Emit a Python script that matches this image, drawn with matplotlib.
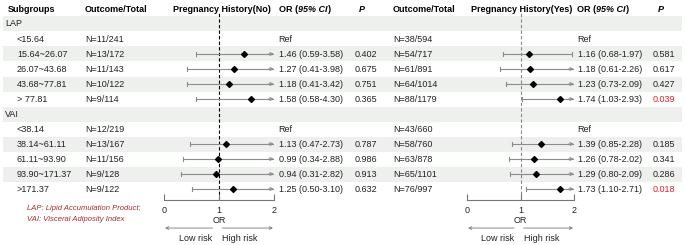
import matplotlib
matplotlib.use("Agg")
import matplotlib.pyplot as plt

plt.rcParams['font.family'] = ['Liberation Sans', 'DejaVu Sans']

# ---- data ----
groups = ["LAP", "VAI"]
subgroups = [["<15.64", "15.64~26.07", "26.07~43.68", "43.68~77.81", "> 77.81"],
             ["<38.14", "38.14~61.11", "61.11~93.90", "93.90~171.37", ">171.37"]]

no_n = ["N=11/241", "N=13/172", "N=11/143", "N=10/122", "N=9/114",
        "N=12/219", "N=13/167", "N=11/156", "N=9/128", "N=9/122"]
no_or = [None, 1.46, 1.27, 1.18, 1.58, None, 1.13, 0.99, 0.94, 1.25]
no_lo = [None, 0.59, 0.41, 0.41, 0.58, None, 0.47, 0.34, 0.31, 0.50]
no_hi = [None, 3.58, 3.98, 3.42, 4.30, None, 2.73, 2.88, 2.82, 3.10]
no_p = [None, 0.402, 0.675, 0.751, 0.365, None, 0.787, 0.986, 0.913, 0.632]

yes_n = ["N=38/594", "N=54/717", "N=61/891", "N=64/1014", "N=88/1179",
         "N=43/660", "N=58/760", "N=63/878", "N=65/1101", "N=76/997"]
yes_or = [None, 1.16, 1.18, 1.23, 1.74, None, 1.39, 1.26, 1.29, 1.73]
yes_lo = [None, 0.68, 0.61, 0.73, 1.03, None, 0.85, 0.78, 0.80, 1.10]
yes_hi = [None, 1.97, 2.26, 2.09, 2.93, None, 2.28, 2.02, 2.09, 2.71]
yes_p = [None, 0.581, 0.617, 0.427, 0.039, None, 0.185, 0.341, 0.286, 0.018]

xticks = [0, 1, 2]

# ---- layout (pixels) ----
W, H = 685, 245
FS = 6.5
shade = '#eef0ee'
line_c = '#8c8c8c'
txt_c = '#222222'

fig = plt.figure(figsize=(W / 100, H / 100), dpi=100)
bg = fig.add_axes([0, 0, 1, 1])
bg.set_xlim(0, W)
bg.set_ylim(H, 0)
bg.axis('off')
renderer = fig.canvas.get_renderer()

header_y = 10
def row_y(i):
    return 24 + 15 * i

# group header row followed by its 5 subgroups
rows = []
k = 0
for g, subs in zip(groups, subgroups):
    rows.append(('group', g, None))
    for s in subs:
        rows.append(('sub', s, k))
        k += 1

for i in range(len(rows)):
    if i % 2 == 0:
        bg.axhspan(row_y(i) - 7.5, row_y(i) + 7.5, xmin=3 / W, xmax=682 / W,
                   color=shade, zorder=0, lw=0)


def rich(x, y, parts):
    # write pieces one after another (mixed bold / bold-italic)
    inv = bg.transData.inverted()
    for s, style in parts:
        t = bg.text(x, y, s, fontsize=FS, fontweight='bold', fontstyle=style,
                    va='center', color='black')
        bb = t.get_window_extent(renderer)
        x = inv.transform((bb.x1, bb.y0))[0]


hdr = dict(fontsize=FS, fontweight='bold', va='center')
bg.text(8, header_y, "Subgroups", **hdr)
bg.text(85, header_y, "Outcome/Total", **hdr)
bg.text(222, header_y, "Pregnancy History(No)", ha='center', **hdr)
bg.text(393, header_y, "Outcome/Total", **hdr)
bg.text(522, header_y, "Pregnancy History(Yes)", ha='center', **hdr)
for x0 in (279, 577):
    rich(x0, header_y, [("OR (", 'normal'), ("95% CI", 'italic'), (")", 'normal')])
bg.text(359, header_y, "P", fontstyle='italic', **hdr)
bg.text(658, header_y, "P", fontstyle='italic', **hdr)

txt = dict(fontsize=FS, va='center', color=txt_c)
for i, (kind, label, idx) in enumerate(rows):
    y = row_y(i)
    if kind == 'group':
        bg.text(5, y, label, **txt)
        continue
    bg.text(17, y, label, **txt)
    bg.text(85, y, no_n[idx], **txt)
    bg.text(393, y, yes_n[idx], **txt)
    for ors, lo, hi, p, xo, xp in ((no_or, no_lo, no_hi, no_p, 279, 355),
                                   (yes_or, yes_lo, yes_hi, yes_p, 578, 653)):
        if ors[idx] is None:
            bg.text(xo - 1, y, "Ref", **txt)
        else:
            bg.text(xo, y, f"{ors[idx]:.2f} ({lo[idx]:.2f}-{hi[idx]:.2f})", **txt)
            col = '#e02424' if p[idx] < 0.05 else txt_c
            bg.text(xp, y, f"{p[idx]:.3f}", fontsize=FS, va='center', color=col)

bg.text(27, 208, "LAP: Lipid Accumulation Product;", fontsize=5.5, fontstyle='italic',
        color='#a3302b', va='center')
bg.text(27, 219, "VAI: Visceral Adiposity Index", fontsize=5.5, fontstyle='italic',
        color='#a3302b', va='center')


def forest(x0, x1, ors, los, his, ref_color):
    ax = fig.add_axes([x0 / W, (H - 200) / H, (x1 - x0) / W, (200 - 13) / H])
    ax.set_xlim(0, 2)
    ax.set_ylim(200, 13)
    ax.patch.set_alpha(0)
    for s in ('top', 'left', 'right'):
        ax.spines[s].set_visible(False)
    ax.spines['bottom'].set_color('#777777')
    ax.spines['bottom'].set_linewidth(0.8)
    ax.set_yticks([])
    ax.set_xticks(xticks)
    ax.tick_params(axis='x', direction='in', length=4, width=0.8, color='#777777',
                   labelsize=FS, pad=4, labelcolor=txt_c)
    ax.set_xlabel("OR", fontsize=FS, labelpad=1, color=txt_c)
    ax.axvline(1, color=ref_color, ls=(0, (3, 2)), lw=0.8, zorder=1)
    for i, (kind, label, idx) in enumerate(rows):
        if kind == 'group' or ors[idx] is None:
            continue
        y = row_y(i)
        lo, hi, o = los[idx], his[idx], ors[idx]
        top = min(hi, 2)
        ax.plot([lo, top], [y, y], color=line_c, lw=0.8, zorder=2)
        ax.plot([lo, lo], [y - 2, y + 2], color=line_c, lw=0.8, zorder=2)
        if hi > 2:
            ax.annotate('', xy=(2, y), xytext=(1.9, y),
                        arrowprops=dict(arrowstyle='->', color=line_c, lw=0.8,
                                        mutation_scale=5, shrinkA=0, shrinkB=0),
                        annotation_clip=False)
        else:
            ax.plot([hi, hi], [y - 2, y + 2], color=line_c, lw=0.8, zorder=2)
        ax.plot(o, y, 'D', color='black', ms=3, zorder=3)
    tr = ax.get_xaxis_transform()
    ay = -0.15
    for a, b in ((0.88, 0.02), (1.06, 1.98)):
        ax.annotate('', xy=(b, ay), xytext=(a, ay), xycoords=tr, textcoords=tr,
                    arrowprops=dict(arrowstyle='->', color='#777777', lw=0.6,
                                    mutation_scale=5, shrinkA=0, shrinkB=0),
                    annotation_clip=False)
    ax.text(0.88, -0.205, "Low risk", transform=tr, ha='right', va='center',
            fontsize=FS, color=txt_c)
    ax.text(1.06, -0.205, "High risk", transform=tr, ha='left', va='center',
            fontsize=FS, color=txt_c)
    return ax


forest(164, 274, no_or, no_lo, no_hi, 'black')
forest(467, 574, yes_or, yes_lo, yes_hi, '#888888')

fig.savefig("out.png", dpi=100)
